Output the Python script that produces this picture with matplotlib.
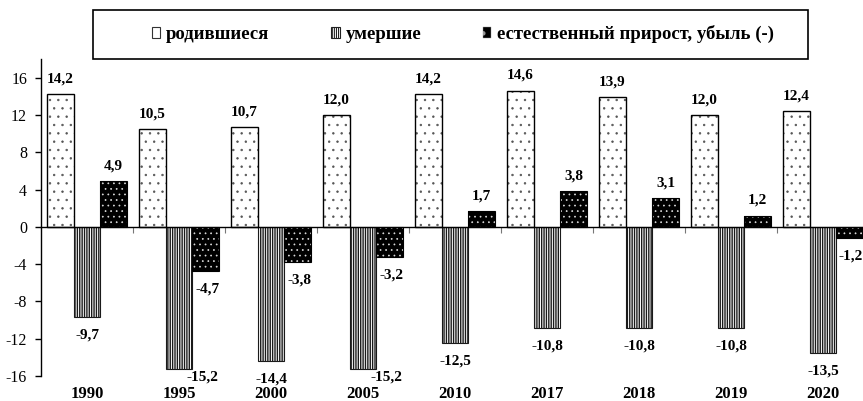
import matplotlib
matplotlib.use("Agg")
import matplotlib.pyplot as plt
from matplotlib.patches import Patch, Rectangle

plt.rcParams['font.family'] = ['Liberation Serif', 'DejaVu Serif']

years = ["1990", "1995", "2000", "2005", "2010", "2017", "2018", "2019", "2020"]
births = [14.2, 10.5, 10.7, 12.0, 14.2, 14.6, 13.9, 12.0, 12.4]
deaths = [-9.7, -15.2, -14.4, -15.2, -12.5, -10.8, -10.8, -10.8, -13.5]
natural = [4.9, -4.7, -3.8, -3.2, 1.7, 3.8, 3.1, 1.2, -1.2]
legend_labels = ["родившиеся", "умершие", "естественный прирост, убыль (-)"]
yticks = [-16, -12, -8, -4, 0, 4, 8, 12, 16]

W, H = 863, 401
fig = plt.figure(figsize=(W / 100, H / 100), dpi=100)
ax = fig.add_axes([41 / W, 25 / H, (863 - 41) / W, (376 - 59) / H])

bw = 0.29
x = list(range(len(years)))
xb = [i - bw for i in x]
xd = [i for i in x]
xn = [i + bw for i in x]

plt.rcParams['hatch.linewidth'] = 0.5
ax.bar(xb, births, width=bw, facecolor='white', edgecolor='#555555', hatch='..', linewidth=0, zorder=2)
ax.bar(xn, natural, width=bw, facecolor='black', edgecolor='#dddddd', hatch='...', linewidth=0, zorder=2)
plt.rcParams['hatch.linewidth'] = 1.0
ax.bar(xd, deaths, width=bw, facecolor='white', edgecolor='#1a1a1a', hatch='|||||||', linewidth=0.8, zorder=2)
ax.bar(xb, births, width=bw, fill=False, edgecolor='black', linewidth=1.0, zorder=3)
ax.bar(xn, natural, width=bw, fill=False, edgecolor='black', linewidth=0.8, zorder=3)

def fmt(v):
    return f"{v:.1f}".replace('.', ',')

lab_kw = dict(ha='center', va='center', fontsize=11, fontweight='bold', textcoords='offset points', annotation_clip=False)
for xi, v in zip(xb, births):
    ax.annotate(fmt(v), (xi, v), xytext=(0, 11), **lab_kw)
for xi, v in zip(xd, deaths):
    if v <= -15:
        ax.annotate(fmt(v), (xi, v), xytext=(17, -6), **lab_kw)
    else:
        ax.annotate(fmt(v), (xi, v), xytext=(0, -13), **lab_kw)
for xi, v in zip(xn, natural):
    if v >= 0:
        ax.annotate(fmt(v), (xi, v), xytext=(0, 11), **lab_kw)
    else:
        ax.annotate(fmt(v), (xi, v), xytext=(1, -13), **lab_kw)

ax.set_xlim(-0.5, -0.5 + (863 - 41) / 92.0)
ax.set_ylim(-16, 18)
ax.set_yticks(yticks)
ax.set_yticklabels([str(t) for t in yticks], fontsize=11.5)
ax.tick_params(axis='y', direction='out', length=4, width=1, pad=6)

for s in ['top', 'right']:
    ax.spines[s].set_visible(False)
ax.spines['left'].set_linewidth(1.0)
ax.spines['bottom'].set_position(('data', 0))
ax.spines['bottom'].set_linewidth(1.0)
ax.spines['bottom'].set_zorder(4)
ax.set_xticks([])
ax.set_xticks([i + 0.5 for i in x[:-1]], minor=True)
ax.tick_params(axis='x', which='minor', direction='out', length=4, width=0.8, color='#777777')

for xi, yl in zip(x, years):
    ax.text(xi, -17.9, yl, ha='center', va='center', fontsize=12, fontweight='bold', clip_on=False)

# legend
plt.rcParams['hatch.linewidth'] = 0.8
handles = [
    Patch(facecolor='white', edgecolor='#333333', hatch='.', linewidth=0.8),
    Patch(facecolor='white', edgecolor='#222222', hatch='||||||||', linewidth=0.8),
    Patch(facecolor='black', edgecolor='#999999', hatch='.', linewidth=0.3),
]
fig.patches.append(Rectangle((93 / W, 1 - 59 / H), (808 - 93) / W, (59 - 10) / H,
                             transform=fig.transFigure, facecolor='white', edgecolor='black',
                             linewidth=1.2, zorder=5))
leg = fig.legend(handles, legend_labels, loc='center', bbox_to_anchor=(463 / W, 1 - 34 / H),
                 ncol=3, frameon=False, prop={'size': 13.5, 'weight': 'bold'},
                 handlelength=0.45, handleheight=0.55, handletextpad=0.3, columnspacing=3.3)
leg.set_zorder(6)

fig.savefig("out.png", dpi=100)
